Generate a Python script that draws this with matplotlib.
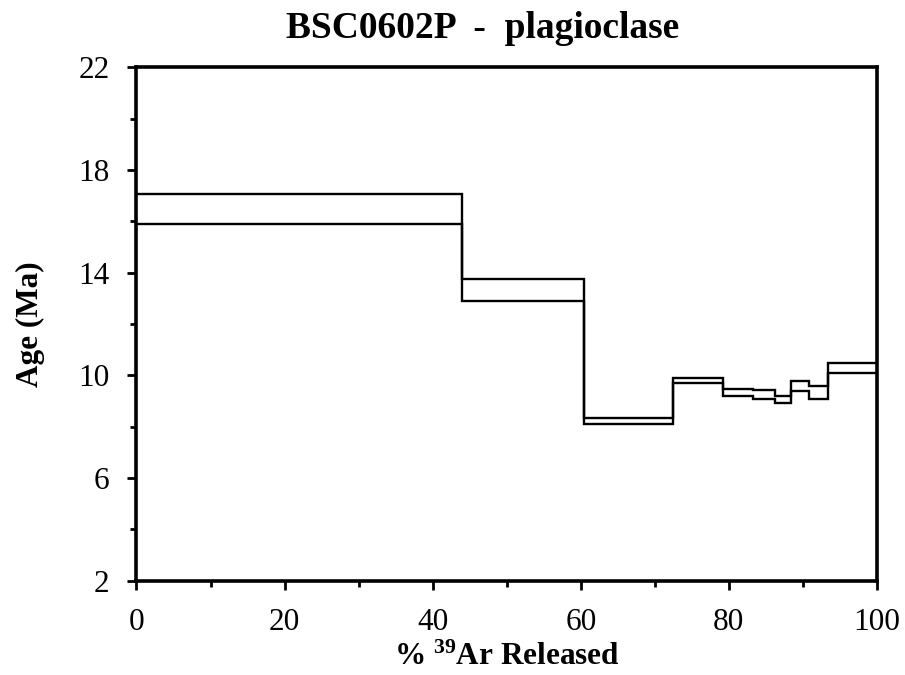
import matplotlib
matplotlib.use("Agg")
import matplotlib.pyplot as plt
from matplotlib.ticker import MultipleLocator

plt.rcParams['font.family'] = ['Liberation Serif', 'DejaVu Serif']
plt.rcParams['mathtext.default'] = 'regular'

# step boundaries (% 39Ar released) and age envelope (Ma) for each step
edges = [0, 44.0, 60.4, 72.4, 79.2, 83.2, 86.2, 88.4, 90.8, 93.4, 100]
age_hi = [17.05, 13.75, 8.33, 9.91, 9.47, 9.43, 9.21, 9.78, 9.60, 10.47]
age_lo = [15.88, 12.88, 8.10, 9.69, 9.20, 9.08, 8.91, 9.40, 9.07, 10.10]

fig = plt.figure(figsize=(9.05, 6.75), dpi=100)
ax = fig.add_axes([0.1508, 0.1397, 0.8182, 0.7606])

ax.stairs(age_hi, edges, baseline=None, color="black", lw=1.7)
ax.stairs(age_lo, edges, baseline=None, color="black", lw=1.7)

ax.set_xlim(0, 100)
ax.set_ylim(2, 22)
ax.xaxis.set_major_locator(MultipleLocator(20))
ax.xaxis.set_minor_locator(MultipleLocator(10))
ax.yaxis.set_minor_locator(MultipleLocator(2))
ax.set_yticks([2, 6, 10, 14, 18, 22])

for s in ax.spines.values():
    s.set_linewidth(2.6)
ax.tick_params(which="major", direction="out", length=6.5, width=2, labelsize=22.5, pad=13)
ax.tick_params(which="minor", direction="out", length=4.5, width=2)

ax.set_xlabel("% $^{39}$Ar Released", fontsize=22.5, fontweight="bold", labelpad=4)
ax.set_ylabel("Age (Ma)", fontsize=22.5, fontweight="bold", labelpad=24)
fig.text(0.533, 0.958, "BSC0602P  -  plagioclase", fontsize=27, fontweight="bold",
         ha="center", va="center")

fig.savefig("out.png", dpi=100)
